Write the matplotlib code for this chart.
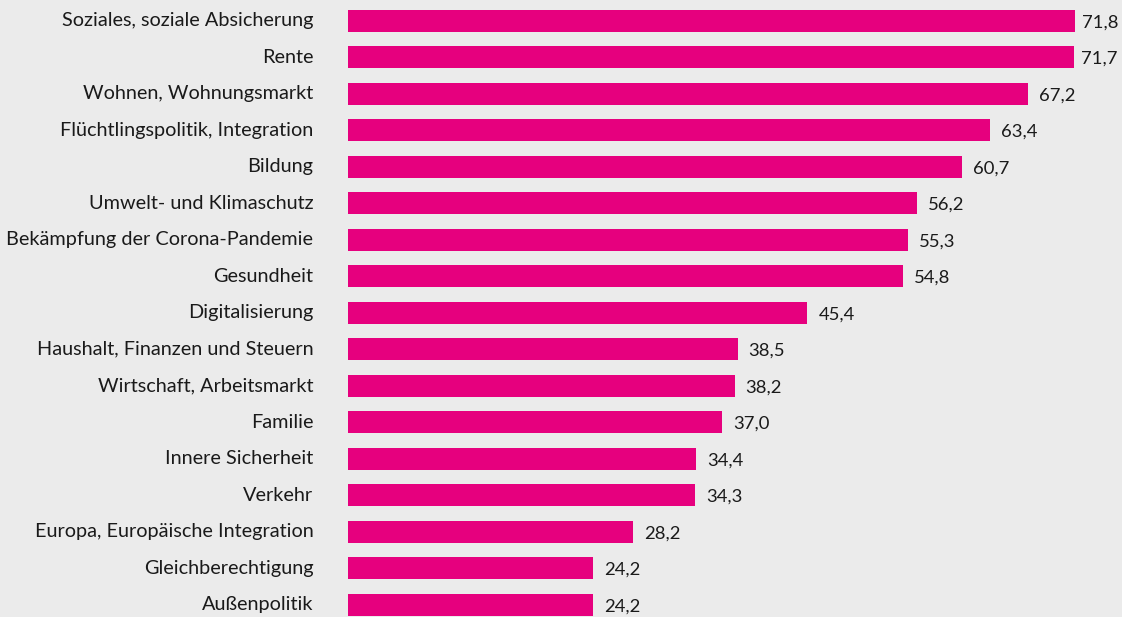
import numpy as np
import matplotlib
matplotlib.use("Agg")
from matplotlib import pyplot as plt
from matplotlib.transforms import ScaledTranslation

# Themen und Werte (in %), von oben nach unten
categories = [
    "Soziales, soziale Absicherung",
    "Rente",
    "Wohnen, Wohnungsmarkt",
    "Flüchtlingspolitik, Integration",
    "Bildung",
    "Umwelt- und Klimaschutz",
    "Bekämpfung der Corona-Pandemie",
    "Gesundheit",
    "Digitalisierung",
    "Haushalt, Finanzen und Steuern",
    "Wirtschaft, Arbeitsmarkt",
    "Familie",
    "Innere Sicherheit",
    "Verkehr",
    "Europa, Europäische Integration",
    "Gleichberechtigung",
    "Außenpolitik",
]
values = [71.8, 71.7, 67.2, 63.4, 60.7, 56.2, 55.3, 54.8, 45.4,
          38.5, 38.2, 37.0, 34.4, 34.3, 28.2, 24.2, 24.2]

BG = "#ebebeb"
BAR = "#e6007e"
TXT = "#1a1a1a"

plt.rcParams['font.family'] = ['Lato', 'DejaVu Sans']

W, H = 1122, 617
fig = plt.figure(figsize=(W / 100, H / 100), dpi=100)
fig.patch.set_facecolor(BG)

# axes: bars start at x=348, ~10.12 px per unit, rows 36.5 px apart
ax = fig.add_axes([348 / W, -6 / H, 774 / W, 620.5 / H])
ax.set_facecolor(BG)

y = np.arange(len(categories))
ax.barh(y, values, height=0.6, color=BAR, left=0)
ax.set_xlim(0, 774 / 10.12)
ax.set_ylim(len(categories) - 0.5, -0.5)

ax.set_yticks(y)
ax.set_yticklabels(categories, fontsize=14.3, color=TXT)
ax.tick_params(axis="y", length=0, pad=25)
# labels sit a touch above bar centre in the original
shift = ScaledTranslation(0, 1.5 / 100, fig.dpi_scale_trans)
for lbl in ax.get_yticklabels():
    lbl.set_transform(lbl.get_transform() + shift)
ax.set_xticks([])
for s in ax.spines.values():
    s.set_visible(False)

for i, v in enumerate(values):
    off = 5 if v > 70 else 8
    ax.annotate(f"{v:.1f}".replace(".", ","), (v, i), xytext=(off, -1),
                textcoords="offset points", va="center", ha="left",
                fontsize=13.3, color=TXT)

fig.savefig("out.png", dpi=100, facecolor=BG)
